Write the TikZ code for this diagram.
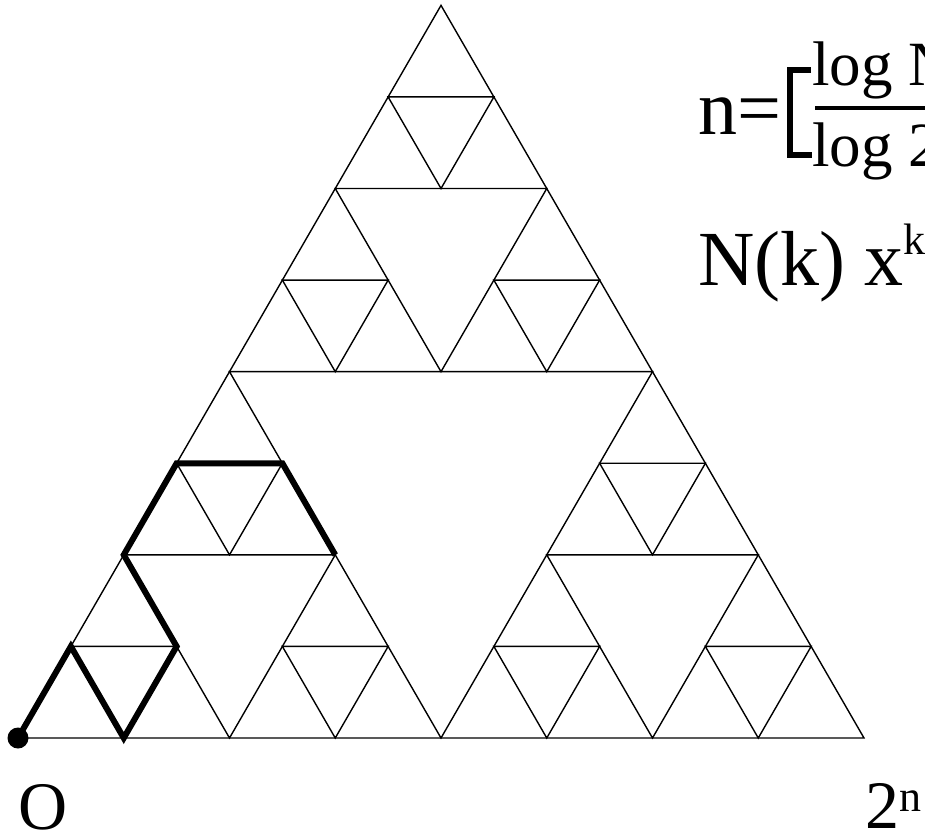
\documentclass[tikz,border=0pt]{standalone}
\usepackage{fontspec}
\setmainfont{Liberation Serif}
\begin{document}
\begin{tikzpicture}[x=1pt,y=-1pt,
  thin line/.style={line width=1.4pt, line join=miter},
  thick walk/.style={line width=6pt, line join=miter, miter limit=10},
  txt/.style={inner sep=0pt, anchor=base west},
  big/.style={font=\fontsize{78}{80}\selectfont},
  mid/.style={font=\fontsize{63}{65}\selectfont},
  low/.style={font=\fontsize{68}{70}\selectfont}]
\useasboundingbox (0,0) rectangle (925,835);
\clip (0,0) rectangle (925,835);
\fill[white] (0,0) rectangle (925,835);
% Sierpinski triangle in skewed lattice coordinates
\begin{scope}[shift={(18,738)}, x={(105.75pt,0pt)}, y={(52.875pt,91.58pt)}]
  \draw[thin line] (0,0) -- (8,0) -- (0,8) -- cycle;
  % level 1 hole
  \draw[thin line] (4,0) -- (0,4) -- (4,4) -- cycle;
  % level 2 holes
  \foreach \a/\b in {0/0,4/0,0/4}
    \draw[thin line] (\a+2,\b) -- (\a,\b+2) -- (\a+2,\b+2) -- cycle;
  % level 3 holes
  \foreach \a/\b in {0/0,2/0,0/2,4/0,6/0,4/2,0/4,2/4,0/6}
    \draw[thin line] (\a+1,\b) -- (\a,\b+1) -- (\a+1,\b+1) -- cycle;
  % walk
  \coordinate (p0) at (0,0);
  \coordinate (p1) at (0,1);
  \coordinate (p2) at (1,0);
  \coordinate (p3) at (1,1);
  \coordinate (p4) at (0,2);
  \coordinate (p5) at (0,3);
  \coordinate (p6) at (1,3);
  \coordinate (p7) at (2,2);
  \draw[thick walk] (p0) -- (p1) -- (p2) -- (p3) -- (p4) -- (p5) -- (p6) -- (p7);
  \fill (p0) circle (10.5pt);
\end{scope}
% formula n = [ log N / log 2 ]
\node[txt, big] (neq) at (698,134) {n=};
\draw[line width=5.5pt, line join=miter] (811,70) -- (790,70) -- (790,155) -- (812,155);
\draw[line width=4.5pt] (815,108) -- (940,108);
\node[txt, mid] (num) at (812,85) {log N};
\node[txt, mid] (den) at (812,166) {log 2};
% N(k) x^k
\node[txt, big] (nk) at (698,285) {N(k) x\raisebox{31pt}{\fontsize{44}{46}\selectfont k}};
% axis labels
\node[txt, low] (o) at (18,829) {O};
\node[txt, low] (tn) at (865,828) {2\raisebox{17pt}{\fontsize{44}{46}\selectfont n}};
\end{tikzpicture}
\end{document}
